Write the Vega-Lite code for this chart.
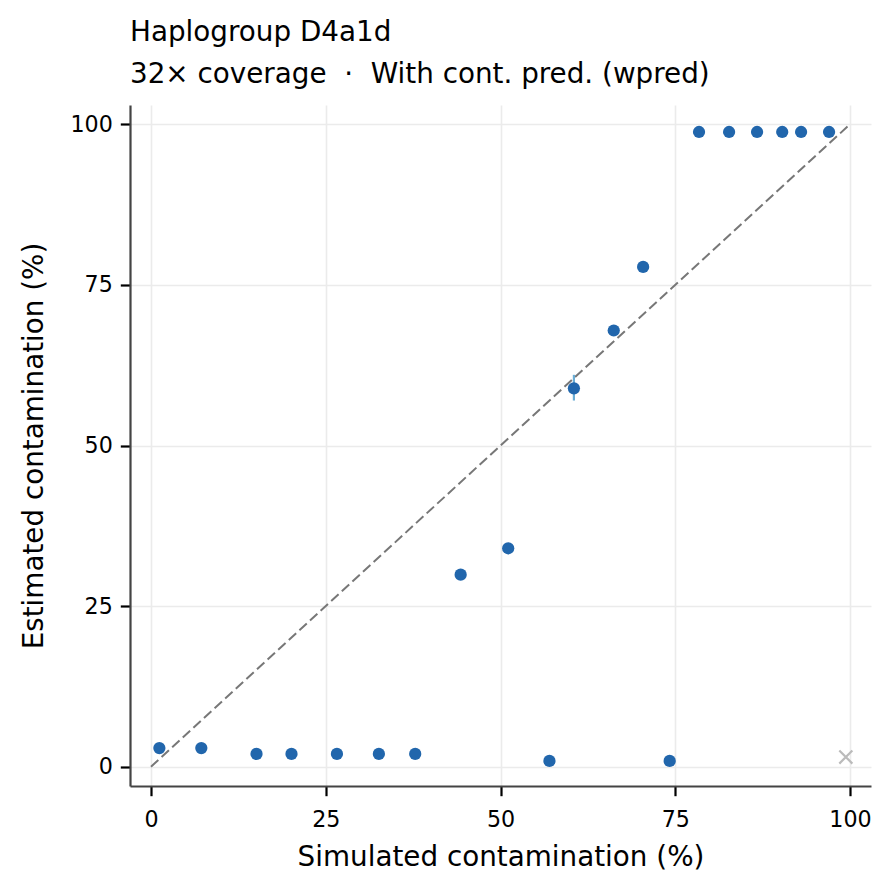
{
  "$schema": "https://vega.github.io/schema/vega-lite/v6.json",
  "width": 741,
  "height": 681,
  "autosize": {"type": "none"},
  "padding": {"left": 130, "top": 105, "right": 23, "bottom": 107},
  "background": "white",
  "title": {
    "text": "Haplogroup D4a1d",
    "subtitle": "32× coverage \u00a0·\u00a0 With cont. pred. (wpred)",
    "anchor": "start",
    "frame": "group",
    "offset": 16,
    "subtitlePadding": 14
  },
  "datasets": {
    "runs": [
      {"sim": 1.2, "est": 2.9},
      {"sim": 7.2, "est": 2.9},
      {"sim": 15.1, "est": 2.0},
      {"sim": 20.1, "est": 2.0},
      {"sim": 26.6, "est": 2.0},
      {"sim": 32.6, "est": 2.0},
      {"sim": 37.8, "est": 2.0},
      {"sim": 44.3, "est": 29.9},
      {"sim": 51.1, "est": 34.0},
      {"sim": 57.0, "est": 0.9},
      {"sim": 60.5, "est": 58.9, "lo": 57.0, "hi": 61.0},
      {"sim": 66.2, "est": 67.9},
      {"sim": 70.4, "est": 77.8},
      {"sim": 74.2, "est": 0.9},
      {"sim": 78.4, "est": 98.8},
      {"sim": 82.7, "est": 98.8},
      {"sim": 86.7, "est": 98.8},
      {"sim": 90.3, "est": 98.8},
      {"sim": 93.0, "est": 98.8},
      {"sim": 97.0, "est": 98.8}
    ],
    "failed": [
      {"sim": 99.4, "est": 1.5}
    ],
    "diag": [
      {"sim": 0, "est": 0},
      {"sim": 100, "est": 100}
    ]
  },
  "encoding": {
    "x": {
      "field": "sim",
      "type": "quantitative",
      "scale": {"domain": [-3, 103], "nice": false, "zero": false},
      "axis": {"values": [0, 25, 50, 75, 100], "title": "Simulated contamination (%)"}
    },
    "y": {
      "field": "est",
      "type": "quantitative",
      "scale": {"domain": [-3, 103], "nice": false, "zero": false},
      "axis": {"values": [0, 25, 50, 75, 100], "title": "Estimated contamination (%)"}
    }
  },
  "layer": [
    {
      "data": {"name": "diag"},
      "mark": {"type": "line", "color": "#777777", "strokeWidth": 2, "strokeDash": [10, 4.4]}
    },
    {
      "data": {"name": "runs"},
      "transform": [{"filter": "isValid(datum.lo)"}],
      "mark": {"type": "rule", "color": "#6baed6", "strokeWidth": 2.2},
      "encoding": {
        "y": {"field": "lo", "type": "quantitative"},
        "y2": {"field": "hi"}
      }
    },
    {
      "data": {"name": "runs"},
      "mark": {"type": "point", "filled": true, "color": "#2166ac", "opacity": 1, "size": 150}
    },
    {
      "data": {"name": "failed"},
      "mark": {
        "type": "point",
        "shape": "M-1,-1L1,1M-1,1L1,-1",
        "filled": false,
        "stroke": "#bbbbbb",
        "strokeWidth": 2.2,
        "opacity": 1,
        "size": 170
      }
    }
  ],
  "config": {
    "font": "DejaVu Sans",
    "view": {"stroke": null},
    "title": {
      "fontSize": 27.8,
      "fontWeight": "normal",
      "color": "black",
      "subtitleFontSize": 27.8,
      "subtitleColor": "black"
    },
    "axis": {
      "domainColor": "#444444",
      "domainWidth": 2.2,
      "tickColor": "black",
      "tickWidth": 2.2,
      "tickSize": 9.7,
      "labelFontSize": 22.2,
      "labelColor": "black",
      "labelPadding": 8,
      "titleFontSize": 27.8,
      "titleFontWeight": "normal",
      "titleColor": "black",
      "gridColor": "#ebebeb",
      "gridWidth": 1.6
    },
    "axisX": {"labelPadding": 13, "titlePadding": 13},
    "axisY": {"titlePadding": 21}
  }
}
